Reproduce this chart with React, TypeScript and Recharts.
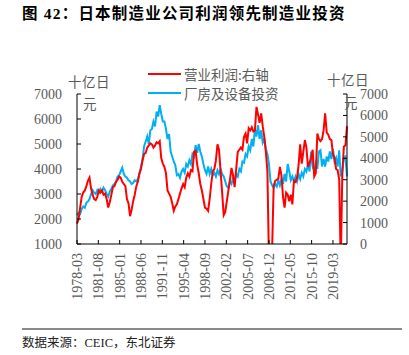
import { LineChart, Line, XAxis, YAxis, Legend } from 'recharts';

// quarterly, 1978-03 .. 2021-06
const startYear = 1978;

// 厂房及设备投资 (left axis, 十亿日元)
const investment = [
  2150, 2250, 2200, 2400, // 1978
  2500, 2450, 2650, 2700,
  2800, 3000, 3150, 3050, // 1980
  3000, 3150, 3050, 3200,
  3100, 3250, 3150, 3000,
  2900, 3100, 3200, 3350,
  3400, 3500, 3700, 3750,
  3900, 4050, 3800, 3700, // 1985
  3650, 3550, 3500, 3400,
  3450, 3550, 3500, 3600,
  3800, 4100, 4400, 4900,
  5100, 5300, 5000, 5550,
  5600, 5900, 5700, 6300, // 1990
  6100, 6550, 6200, 5900,
  5900, 5600, 5200, 5400,
  4700, 4500, 4300, 4150,
  3750, 3800, 3650, 3900,
  4000, 3850, 4200, 4100, // 1995
  4350, 4200, 4600, 4500,
  4950, 4650, 5000, 4700,
  4500, 4200, 3950, 3800,
  4100, 3800, 4000, 3750,
  3850, 3700, 3950, 3800, // 2000
  4000, 3800, 3700, 3500,
  3300, 3250, 3500, 3400,
  3650, 3500, 3800, 3700,
  4000, 3900, 4300, 4250,
  4600, 4500, 4900, 4750, // 2005
  5200, 4900, 5600, 5300,
  5750, 5200, 5550, 5050,
  5200, 4800, 4600, 4200,
  3500, 3350, 3250, 3400,
  3300, 3550, 3350, 3600, // 2010
  3400, 3800, 3500, 4200,
  3900, 3550, 3700, 3500,
  3700, 3500, 3800, 3600,
  3850, 3700, 4000, 3900,
  4200, 3900, 4700, 4100, // 2015
  3900, 4200, 4000, 4700,
  4750, 4100, 4400, 4100,
  4500, 4300, 4700, 4400,
  4800, 4300, 4450, 4100,
  4750, 3700, 3900, 4450, // 2020
  4500, 3700,
];

// 营业利润 (right axis, 十亿日元)
const profit = [
  950, 1150, 1700, 2200, // 1978
  2400, 2500, 2700, 2950,
  3100, 2600, 2300, 2100, // 1980
  2050, 2200, 2500, 2400,
  2500, 2300, 2350, 2100,
  1700, 1950, 2300, 2650,
  2700, 2900, 3000, 3150,
  3100, 2900, 2800, 2700, // 1985
  2100, 1900, 1300, 1600,
  2000, 2300, 2700, 2900,
  3300, 3500, 3900, 4200,
  4250, 4500, 4600, 4700,
  4650, 4500, 4600, 4750, // 1990
  4700, 4800, 4000, 3750,
  3600, 3300, 2500, 2350,
  2200, 1900, 1550, 1750,
  1850, 2100, 2350, 2600,
  2800, 2650, 3100, 3300, // 1995
  3150, 3450, 3400, 4300,
  4350, 3700, 3300, 2800,
  2500, 2100, 1700, 1650,
  1550, 2100, 2800, 3400,
  3500, 3900, 4650, 4400, // 2000
  3400, 2400, 1350, 1500,
  2000, 2500, 3000, 3550,
  3200, 2650, 3500, 4300,
  4400, 4500, 4400, 5000,
  5150, 4700, 5400, 5300, // 2005
  5450, 5250, 5300, 6400,
  6050, 5650, 6100, 5500,
  5000, 4300, 3400, -800,
  -900, -300, 2700, 2950,
  3000, 3050, 3600, 3200, // 2010
  2200, 1700, 2400, 2300,
  2000, 2300, 1850, 2950,
  2900, 3100, 3700, 4650,
  3750, 4300, 4850, 4500,
  3600, 3800, 4000, 4400, // 2015
  3150, 3300, 5150, 4900,
  4800, 4900, 5300, 6100,
  5200, 5100, 4900, 4850,
  4200, 4000, 3500, 3450,
  3000, -1000, 3300, 4550, // 2020
  4600, 5500,
];

const xTickLabels = [
  '1978-03', '1981-08', '1985-01', '1988-06', '1991-11', '1995-04', '1998-09',
  '2002-02', '2005-07', '2008-12', '2012-05', '2015-10', '2019-03',
];
const leftTicks = [1000, 2000, 3000, 4000, 5000, 6000, 7000];
const rightTicks = [0, 1000, 2000, 3000, 4000, 5000, 6000, 7000];
const legendOrder = ['营业利润:右轴', '厂房及设备投资'];

// months since 1978-03
const toMonth = (label: string) => {
  const [y, m] = label.split('-').map(Number);
  return (y - startYear) * 12 + (m - 3);
};

const data = investment.map((v, i) => {
  const m = i * 3;
  const year = startYear + Math.floor((m + 2) / 12);
  const mon = ((m + 2) % 12) + 1;
  return {
    t: m,
    date: `${year}-${String(mon).padStart(2, '0')}`,
    investment: v,
    profit: profit[i],
  };
});

const xTicks = xTickLabels.map(toMonth);
const labelFor = new Map(xTicks.map((t, i) => [t, xTickLabels[i]]));

const serif = '"Liberation Serif", "Times New Roman", serif';
const cjk = '"Noto Sans CJK SC", "Noto Sans", sans-serif';
const grey = '#595959';

function XTick(props: any) {
  const { x, payload } = props;
  return (
    <text
      x={x}
      y={253}
      transform={`rotate(-90, ${x}, 253)`}
      textAnchor="end"
      dy="0.35em"
      fill={grey}
      fontSize={14}
      fontFamily={serif}
    >
      {labelFor.get(payload.value)}
    </text>
  );
}

function LegendBox(props: any) {
  const items = [...(props.payload || [])].sort(
    (a: any, b: any) => legendOrder.indexOf(a.value) - legendOrder.indexOf(b.value)
  );
  return (
    <div>
      {items.map((it: any) => (
        <div
          key={it.value}
          style={{ display: 'flex', alignItems: 'center', height: 19.5 }}
        >
          <svg width={33} height={4} style={{ marginRight: 3 }}>
            <line x1={0} y1={2} x2={33} y2={2} stroke={it.color} strokeWidth={2} />
          </svg>
          <span style={{ fontFamily: cjk, fontSize: 13.5, color: grey, whiteSpace: 'nowrap' }}>
            {it.value}
          </span>
        </div>
      ))}
    </div>
  );
}

export default function App() {
  return (
    <div
      style={{
        position: 'absolute',
        left: 0,
        top: 0,
        width: 409,
        height: 355,
        background: '#fff',
        overflow: 'hidden',
      }}
    >
      <div
        style={{
          position: 'absolute',
          left: 22,
          top: 1,
          fontFamily: `${serif.split(',')[0]}, ${cjk}`,
          fontWeight: 'bold',
          fontSize: 15.5,
          letterSpacing: 1.2,
          color: '#000',
          whiteSpace: 'nowrap',
        }}
      >
        图 42：日本制造业公司利润领先制造业投资
      </div>

      <LineChart
        width={409}
        height={355}
        data={data}
        margin={{ top: 94, right: 2, bottom: 52, left: 17 }}
      >
        <XAxis
          dataKey="t"
          type="number"
          domain={[0, (investment.length - 1) * 3]}
          ticks={xTicks}
          interval={0}
          height={59}
          tickSize={-4}
          tickMargin={13}
          axisLine={{ stroke: '#000' }}
          tickLine={{ stroke: '#000' }}
          tick={<XTick />}
        />
        <YAxis
          yAxisId="left"
          orientation="left"
          width={60}
          domain={[1000, 7000]}
          ticks={leftTicks}
          interval={0}
          tickSize={-4}
          tickMargin={19}
          axisLine={{ stroke: '#000' }}
          tickLine={{ stroke: '#000' }}
          tick={{ fill: grey, fontSize: 14, fontFamily: serif }}
        />
        <YAxis
          yAxisId="right"
          orientation="right"
          width={60}
          domain={[0, 7000]}
          allowDataOverflow
          ticks={rightTicks}
          interval={0}
          tickSize={-4}
          tickMargin={17}
          axisLine={{ stroke: '#000' }}
          tickLine={{ stroke: '#000' }}
          tick={{ fill: grey, fontSize: 14, fontFamily: serif }}
        />
        <Legend
          layout="vertical"
          align="center"
          verticalAlign="middle"
          content={<LegendBox />}
          wrapperStyle={{ left: 148, top: 64, width: 150, height: 40 }}
        />
        <Line
          yAxisId="left"
          dataKey="investment"
          name="厂房及设备投资"
          stroke="#00B0F0"
          strokeWidth={2}
          dot={false}
          isAnimationActive={false}
        />
        <Line
          yAxisId="right"
          dataKey="profit"
          name="营业利润:右轴"
          stroke="#FF0000"
          strokeWidth={2}
          dot={false}
          isAnimationActive={false}
        />
      </LineChart>

      <div style={{ position: 'absolute', left: 68, top: 71, fontFamily: cjk, fontSize: 13.5, color: grey, letterSpacing: 0.5 }}>
        十亿日
      </div>
      <div style={{ position: 'absolute', left: 83, top: 93, fontFamily: cjk, fontSize: 13.5, color: grey }}>
        元
      </div>
      <div style={{ position: 'absolute', left: 327, top: 69, fontFamily: cjk, fontSize: 13.5, color: grey, letterSpacing: 0.5 }}>
        十亿日
      </div>
      <div style={{ position: 'absolute', left: 344, top: 92, fontFamily: cjk, fontSize: 13.5, color: grey }}>
        元
      </div>

      <div
        style={{
          position: 'absolute',
          left: 22,
          top: 328,
          width: 380,
          borderTop: '2px solid #8a8a8a',
        }}
      />
      <div
        style={{
          position: 'absolute',
          left: 22,
          top: 332,
          fontFamily: `${serif.split(',')[0]}, ${cjk}`,
          fontSize: 12.5,
          color: '#222',
          whiteSpace: 'nowrap',
        }}
      >
        数据来源：CEIC，东北证券
      </div>
    </div>
  );
}
